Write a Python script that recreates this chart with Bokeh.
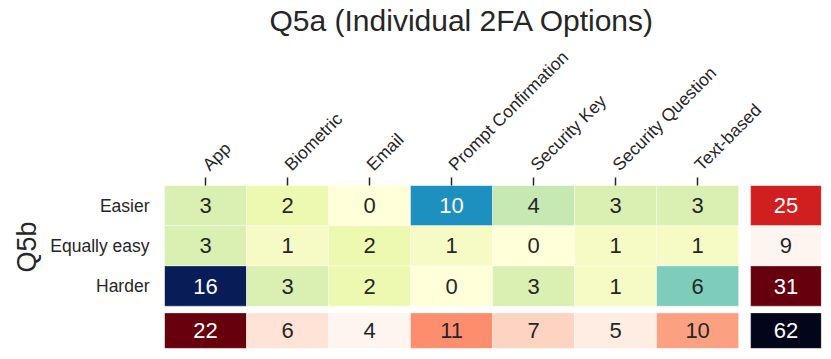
import math
import numpy as np
from bokeh.plotting import figure
from bokeh.models import ColumnDataSource, Range1d, FixedTicker, Title, LinearColorMapper
from bokeh.transform import transform
from bokeh.embed import file_html
from bokeh.resources import INLINE

# ---------------- data ----------------
options = ["App", "Biometric", "Email", "Prompt Confirmation",
           "Security Key", "Security Question", "Text-based"]
answers = ["Easier", "Equally easy", "Harder"]
easier = [3, 2, 0, 10, 4, 3, 3]
equally_easy = [3, 1, 2, 1, 0, 1, 1]
harder = [16, 3, 2, 0, 3, 1, 6]
row_totals = [25, 9, 31]
col_totals = [22, 6, 4, 11, 7, 5, 10]
grand_total = [62]

# ---------------- style / layout ----------------
FONT = "Liberation Sans"
DARK = "#262626"
COL_PX = 82.0          # main cell width in px
ROW_PX = 40.3          # main cell height in px
GAP_X = 12.0 / COL_PX  # gap before totals column (data units)
TOT_W = 70.7 / COL_PX  # width of totals column (data units)
GAP_Y = 6.7 / ROW_PX   # gap before totals row
TOT_H = 35.6 / ROW_PX  # height of totals row

YLGNBU = ["#ffffd9", "#edf8b1", "#c7e9b4", "#7fcdbb", "#41b6c4",
          "#1d91c0", "#225ea8", "#253494", "#081d58"]
REDS = ["#fff5f0", "#fee0d2", "#fcbba1", "#fc9272", "#fb6a4a",
        "#ef3b2c", "#cb181d", "#a50f15", "#67000d"]
CORNER = ["#03051a"]


def hex2rgb(h):
    h = h.lstrip("#")
    return np.array([int(h[i:i + 2], 16) for i in (0, 2, 4)], dtype=float)


def interp_palette(anchors, n=256):
    arr = np.array([hex2rgb(a) for a in anchors])
    pos = np.linspace(0, 1, len(anchors))
    t = np.linspace(0, 1, n)
    out = []
    for tt in t:
        rgb = [np.interp(tt, pos, arr[:, k]) for k in range(3)]
        out.append("#%02x%02x%02x" % tuple(int(round(c)) for c in rgb))
    return out


def luminance(h):
    rgb = hex2rgb(h) / 255.0
    rgb = np.where(rgb <= 0.03928, rgb / 12.92, ((rgb + 0.055) / 1.055) ** 2.4)
    return 0.2126 * rgb[0] + 0.7152 * rgb[1] + 0.0722 * rgb[2]


def text_colors(values, palette, low, high):
    cols = []
    for v in values:
        if high > low:
            idx = int(round((v - low) / (high - low) * (len(palette) - 1)))
        else:
            idx = 0
        c = palette[idx]
        cols.append(DARK if luminance(c) > 0.408 else "white")
    return cols


pal_main = interp_palette(YLGNBU)
pal_reds = interp_palette(REDS)

# ---------------- sources ----------------
main_vals = [easier, equally_easy, harder]
mx, my, mv = [], [], []
for r, row in enumerate(main_vals):
    for c, v in enumerate(row):
        mx.append(c + 0.5)
        my.append(r + 0.5)
        mv.append(v)
m_low, m_high = min(mv), max(mv)
main_src = ColumnDataSource(dict(x=mx, y=my, v=mv, t=[str(v) for v in mv],
                                 tc=text_colors(mv, pal_main, m_low, m_high)))

tot_x = len(options) + GAP_X + TOT_W / 2
tot_y = len(answers) + GAP_Y + TOT_H / 2

r_low, r_high = min(row_totals), max(row_totals)
right_src = ColumnDataSource(dict(x=[tot_x] * len(answers),
                                  y=[i + 0.5 for i in range(len(answers))],
                                  v=row_totals, t=[str(v) for v in row_totals],
                                  tc=text_colors(row_totals, pal_reds, r_low, r_high)))

b_low, b_high = min(col_totals), max(col_totals)
bottom_src = ColumnDataSource(dict(x=[i + 0.5 for i in range(len(options))],
                                   y=[tot_y] * len(options),
                                   v=col_totals, t=[str(v) for v in col_totals],
                                   tc=text_colors(col_totals, pal_reds, b_low, b_high)))

corner_src = ColumnDataSource(dict(x=[tot_x], y=[tot_y], v=grand_total,
                                   t=[str(v) for v in grand_total], tc=["white"]))

# ---------------- figure ----------------
x_end = len(options) + GAP_X + TOT_W + 0.002
y_end = len(answers) + GAP_Y + TOT_H + 0.002

p = figure(width=823, height=351, output_backend="svg", toolbar_location=None,
           tools="", x_axis_location="above",
           x_range=Range1d(0, x_end), y_range=Range1d(y_end, 0),
           min_border_left=164, min_border_top=185,
           min_border_right=2, min_border_bottom=3)
p.outline_line_color = None
p.grid.visible = False
p.background_fill_color = "white"
p.border_fill_color = "white"

p.title.text = "Q5a (Individual 2FA Options)"
p.title.align = "left"
p.title.offset = 105
p.title.standoff = 0
p.title.text_font = FONT
p.title.text_font_size = "30px"
p.title.text_font_style = "normal"
p.title.text_color = DARK

p.add_layout(Title(text="Q5b", align="left", text_font=FONT,
                   text_font_size="27px", text_font_style="normal",
                   text_color=DARK, offset=76, standoff=12), "left")

xa = p.xaxis[0]
xa.ticker = FixedTicker(ticks=[i + 0.5 for i in range(len(options))])
xa.major_label_overrides = {i + 0.5: o for i, o in enumerate(options)}
xa.major_label_orientation = math.pi / 4
xa.major_label_text_font = FONT
xa.major_label_text_font_size = "17.5px"
xa.major_label_text_line_height = 1.0
xa.major_label_text_color = DARK
xa.axis_line_color = None
xa.major_tick_out = 8
xa.major_tick_in = 0
xa.major_tick_line_color = DARK
xa.major_tick_line_width = 1.5
xa.minor_tick_line_color = None
xa.major_label_standoff = 10

ya = p.yaxis[0]
ya.ticker = FixedTicker(ticks=[i + 0.5 for i in range(len(answers))])
ya.major_label_overrides = {i + 0.5: a for i, a in enumerate(answers)}
ya.major_label_text_font = FONT
ya.major_label_text_font_size = "17.5px"
ya.major_label_text_color = DARK
ya.axis_line_color = None
ya.major_tick_out = 0
ya.major_tick_in = 0
ya.major_tick_line_color = None
ya.minor_tick_line_color = None
ya.major_label_standoff = 15

main_map = LinearColorMapper(palette=pal_main, low=m_low, high=m_high)
right_map = LinearColorMapper(palette=pal_reds, low=r_low, high=r_high)
bottom_map = LinearColorMapper(palette=pal_reds, low=b_low, high=b_high)
corner_map = LinearColorMapper(palette=CORNER, low=0, high=1)

cell_line = dict(line_color="white", line_alpha=0.35, line_width=1)
p.rect("x", "y", width=1, height=1, source=main_src,
       fill_color=transform("v", main_map), **cell_line)
p.rect("x", "y", width=TOT_W, height=1, source=right_src,
       fill_color=transform("v", right_map), **cell_line)
p.rect("x", "y", width=1, height=TOT_H, source=bottom_src,
       fill_color=transform("v", bottom_map), **cell_line)
p.rect("x", "y", width=TOT_W, height=TOT_H, source=corner_src,
       fill_color=transform("v", corner_map), **cell_line)

for src in (main_src, right_src, bottom_src, corner_src):
    p.text("x", "y", text="t", source=src, text_align="center",
           text_baseline="middle", text_font_size="22px",
           text_color="tc", text_font={"value": FONT})

open("out.html", "w").write(file_html(p, INLINE))
